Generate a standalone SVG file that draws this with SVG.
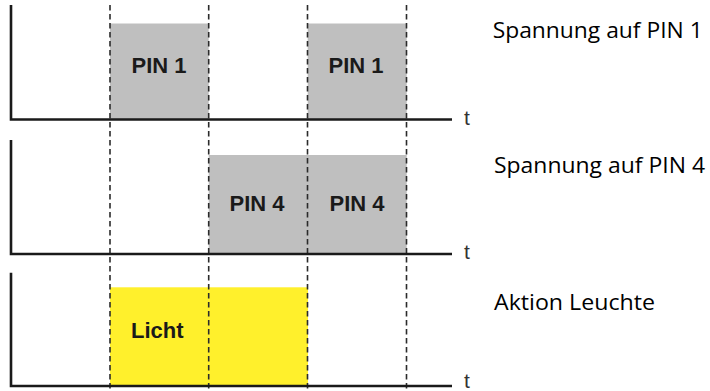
<svg xmlns="http://www.w3.org/2000/svg" width="710" height="391" viewBox="0 0 710 391">
<style>
.axis{fill:none;stroke:#1a1a1a;stroke-width:2.6}
.dash{fill:none;stroke:#2b2b2b;stroke-width:1.6;stroke-dasharray:5.5 3.5}
.gray{fill:#bfbfbf}
.yellow{fill:#fff02c}
.lbl{font-family:"Liberation Sans",Arial,sans-serif;font-weight:bold;font-size:22px;fill:#1a1a1a}
.t{font-family:"Liberation Sans",Arial,sans-serif;font-size:21px;fill:#333}
.side{font-family:"Open Sans","Noto Sans",sans-serif;font-size:22.5px;fill:#000}
</style>
<rect width="710" height="391" fill="#fff"/>
<g id="panel1">
<rect class="gray" x="110" y="23.5" width="98.7" height="96"/>
<rect class="gray" x="307.7" y="23.5" width="99" height="96"/>
<text class="lbl" x="159" y="72.7" text-anchor="middle">PIN 1</text>
<text class="lbl" x="356" y="72.7" text-anchor="middle">PIN 1</text>
</g>
<g id="panel2">
<rect class="gray" x="208.7" y="155" width="198" height="99"/>
<text class="lbl" x="257" y="211" text-anchor="middle">PIN 4</text>
<text class="lbl" x="357" y="211" text-anchor="middle">PIN 4</text>
</g>
<g id="panel3">
<rect class="yellow" x="110" y="287.3" width="198" height="98.7"/>
<text class="lbl" x="131" y="338">Licht</text>
</g>
<g id="connectors">
<line class="dash" x1="110" y1="5" x2="110" y2="391"/>
<line class="dash" x1="208.7" y1="5" x2="208.7" y2="391"/>
<line class="dash" x1="307.5" y1="5" x2="307.5" y2="391"/>
<line class="dash" x1="406.5" y1="5" x2="406.5" y2="391"/>
<polyline class="axis" points="11,5 11,119.5 452,119.5"/>
<polyline class="axis" points="11,140 11,254 452,254"/>
<polyline class="axis" points="11,272.7 11,386 452,386"/>
</g>
<g id="axis-labels">
<text class="t" x="464" y="125">t</text>
<text class="t" x="464" y="259">t</text>
<text class="t" x="464" y="388">t</text>
</g>
<g id="side-labels">
<text class="side" x="492.7" y="37.7" textLength="210" lengthAdjust="spacingAndGlyphs">Spannung auf PIN 1</text>
<text class="side" x="494" y="173" textLength="211" lengthAdjust="spacingAndGlyphs">Spannung auf PIN 4</text>
<text class="side" x="494" y="309.5" textLength="161" lengthAdjust="spacingAndGlyphs">Aktion Leuchte</text>
</g>
</svg>
